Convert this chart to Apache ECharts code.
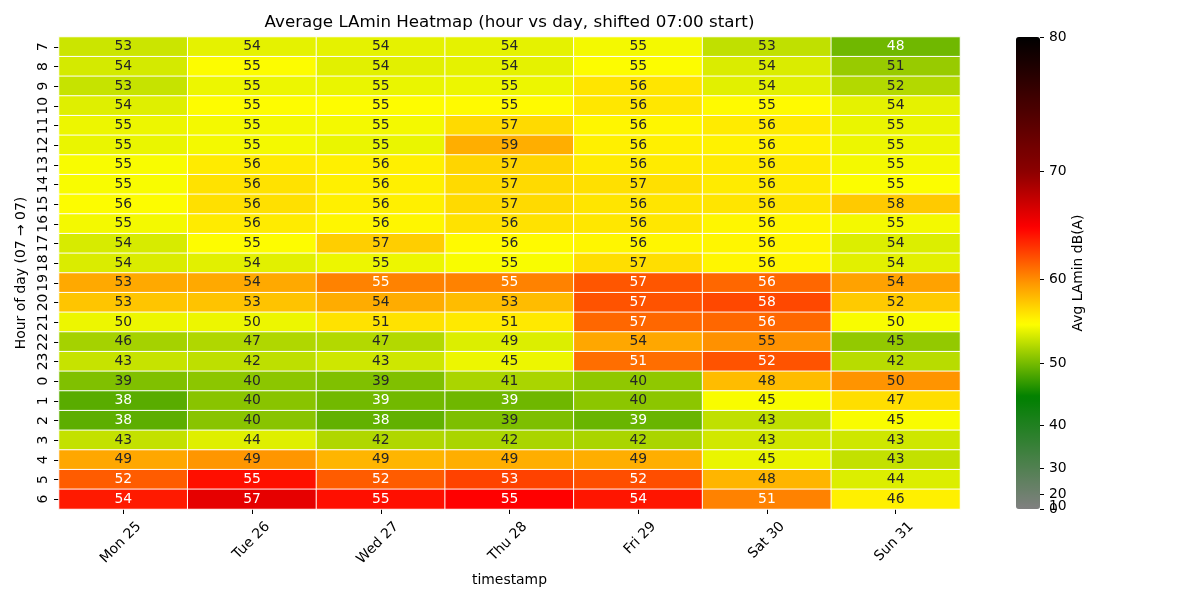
<!DOCTYPE html>
<html>
<head>
<meta charset="utf-8">
<script src="https://cdn.jsdelivr.net/npm/echarts@6/dist/echarts.min.js"></script>
<style>html,body{margin:0;padding:0;background:#fff}#chart{width:1200px;height:600px}</style>
</head>
<body>
<div id="chart"></div>
<script>
// ---- categories ----
const days = ['Mon 25','Tue 26','Wed 27','Thu 28','Fri 29','Sat 30','Sun 31'];
const hours = ['7','8','9','10','11','12','13','14','15','16','17','18','19','20','21','22','23','0','1','2','3','4','5','6'];

// ---- annotated values (per day, rows in hour order above) ----
const laminMon = [53,54,53,54,55,55,55,55,56,55,54,54,53,53,50,46,43,39,38,38,43,49,52,54];
const laminTue = [54,55,55,55,55,55,56,56,56,56,55,54,54,53,50,47,42,40,40,40,44,49,55,57];
const laminWed = [54,54,55,55,55,55,56,56,56,56,57,55,55,54,51,47,43,39,39,38,42,49,52,55];
const laminThu = [54,54,55,55,57,59,57,57,57,56,56,55,55,53,51,49,45,41,39,39,42,49,53,55];
const laminFri = [55,55,56,56,56,56,56,57,56,56,56,57,57,57,57,54,51,40,40,39,42,49,52,54];
const laminSat = [53,54,54,55,56,56,56,56,56,56,56,56,56,58,56,55,52,48,45,43,43,45,48,51];
const laminSun = [48,51,52,54,55,55,55,55,58,55,54,54,54,52,50,45,42,50,47,45,43,43,44,46];

// ---- colour level of each cell, dB(A) ----
const levelMon = [53.2,53.5,53.0,53.9,54.4,54.3,54.8,54.8,55.0,54.6,53.6,53.7,58.8,57.6,54.4,51.8,53.0,50.4,48.85,49.0,52.9,58.9,61.8,64.1];
const levelTue = [54.1,55.0,54.4,55.1,54.6,54.6,55.9,56.3,56.4,55.9,55.1,54.0,58.8,57.7,54.4,52.2,52.7,50.85,50.75,50.75,53.9,59.6,64.5,66.1];
const levelWed = [54.1,54.0,54.3,55.1,54.6,54.3,55.7,55.7,55.7,55.4,57.2,54.4,60.4,58.7,56.3,52.3,53.3,50.4,49.85,49.2,52.2,58.3,61.8,64.5];
const levelThu = [54.1,54.1,54.4,55.2,56.7,58.6,56.9,56.7,56.7,56.3,55.2,54.8,60.4,58.0,56.0,53.8,54.4,52.0,49.7,50.3,52.0,58.6,62.7,65.0];
const levelFri = [54.6,55.0,56.2,56.1,55.4,55.7,55.9,56.4,56.2,56.1,55.4,56.5,62.0,62.1,61.4,58.9,61.1,51.0,50.85,49.5,52.0,58.6,62.3,64.3];
const levelSat = [52.8,53.7,54.0,55.2,55.9,55.6,55.9,55.9,56.2,55.4,55.4,55.4,61.4,62.5,61.4,59.8,62.1,58.0,54.8,52.8,53.4,54.3,58.3,60.4];
const levelSun = [49.75,51.3,52.3,54.1,54.3,54.4,54.6,54.9,57.4,54.6,53.8,54.0,59.1,57.4,54.8,51.1,52.5,59.7,56.5,54.8,53.3,52.9,53.8,55.7];

// ---- colour bar ticks ----
const cbTicks = [0,10,20,30,40,50,60,70,80];

const laminByDay = [laminMon,laminTue,laminWed,laminThu,laminFri,laminSat,laminSun];
const levelByDay = [levelMon,levelTue,levelWed,levelThu,levelFri,levelSat,levelSun];

// power norm (gamma 2.5, 0..80)
const VMIN = 0, VMAX = 80, GAMMA = 2.5;
const norm = v => Math.pow((v - VMIN) / (VMAX - VMIN), GAMMA);
const invNorm = t => VMIN + (VMAX - VMIN) * Math.pow(Math.max(t, 0), 1 / GAMMA);

// colormap nodes (dB -> colour)
const cmapNodes = [[0,[128,128,128]],[45,[0,128,0]],[55,[255,255,0]],[60,[255,140,0]],[65,[255,0,0]],[70,[139,0,0]],[80,[0,0,0]]];
function cmap(t) {
  for (let i = 0; i < cmapNodes.length - 1; i++) {
    const a = norm(cmapNodes[i][0]), b = norm(cmapNodes[i+1][0]);
    if (t <= b || i === cmapNodes.length - 2) {
      const f = Math.min(1, Math.max(0, (t - a) / (b - a)));
      const c0 = cmapNodes[i][1], c1 = cmapNodes[i+1][1];
      return [0,1,2].map(k => Math.round(c0[k] + (c1[k] - c0[k]) * f));
    }
  }
}
const hex = c => '#' + c.map(x => x.toString(16).padStart(2,'0')).join('');
const rampColors = [];
for (let i = 0; i <= 200; i++) rampColors.push(hex(cmap(i / 200)));

function textColorFor(rgb) {
  const lin = rgb.map(x => { x /= 255; return x <= 0.03928 ? x / 12.92 : Math.pow((x + 0.055) / 1.055, 2.4); });
  const lum = 0.2126 * lin[0] + 0.7152 * lin[1] + 0.0722 * lin[2];
  return lum > 0.408 ? '#262626' : '#ffffff';
}

const cells = [];
days.forEach((d, di) => {
  hours.forEach((h, hi) => {
    const t = norm(levelByDay[di][hi]);
    cells.push({ value: [di, hi, t, laminByDay[di][hi]], label: { color: textColorFor(cmap(t)) } });
  });
});

// tick positions on the colour bar; the crowded low ticks go on two axes so none is dropped
const cbPosA = cbTicks.filter((v, i) => i !== 1).map(norm);
const cbPosB = cbTicks.filter((v, i) => i === 1).map(norm);
const FONT = 'DejaVu Sans';
const cbFmt = v => String(Math.round(invNorm(v)));

function cbAxis(pos, withName) {
  const ax = {
    type: 'value', gridIndex: 1, min: 0, max: 1, position: 'right',
    axisLine: { show: false }, splitLine: { show: false },
    axisTick: { show: true, customValues: pos, length: 4, lineStyle: { color: '#000', width: 1 } },
    axisLabel: { customValues: pos, showMinLabel: true, showMaxLabel: true, hideOverlap: false,
      fontSize: 13.9, color: '#000', fontFamily: FONT, margin: 9, formatter: cbFmt }
  };
  if (withName) {
    ax.name = 'Avg LAmin dB(A)';
    ax.nameLocation = 'middle';
    ax.nameGap = 31;
    ax.nameTextStyle = { fontSize: 13.9, color: '#000', fontFamily: FONT };
  }
  return ax;
}

const chart = echarts.init(document.getElementById('chart'));
chart.setOption({
  animation: false,
  textStyle: { fontFamily: FONT },
  title: {
    text: 'Average LAmin Heatmap (hour vs day, shifted 07:00 start)',
    left: 509.5, top: 14, padding: 0, textAlign: 'center',
    textStyle: { fontFamily: FONT, fontSize: 16.7, fontWeight: 'normal', color: '#000' }
  },
  grid: [
    { left: 59, top: 37, width: 901, height: 472 },
    { left: 1016, top: 37, width: 24, height: 472 }
  ],
  xAxis: [
    {
      type: 'category', data: days, gridIndex: 0,
      axisLine: { show: false },
      axisTick: { show: true, alignWithLabel: true, length: 5, lineStyle: { color: '#000', width: 1 } },
      axisLabel: { interval: 0, rotate: 45, fontSize: 13.9, color: '#000', fontFamily: FONT, margin: 0, verticalAlign: 'top', padding: [15, 0, 0, 0] },
      name: 'timestamp', nameLocation: 'middle', nameGap: 60,
      nameTextStyle: { fontSize: 13.9, color: '#000', fontFamily: FONT }
    },
    { type: 'value', gridIndex: 1, show: false, min: 0, max: 1 }
  ],
  yAxis: [
    {
      type: 'category', data: hours, gridIndex: 0, inverse: true,
      axisLine: { show: false },
      axisTick: { show: true, alignWithLabel: true, length: 5, lineStyle: { color: '#000', width: 1 } },
      axisLabel: { interval: 0, rotate: 90, fontSize: 13.9, color: '#000', fontFamily: FONT, margin: 9 },
      name: 'Hour of day (07 → 07)', nameLocation: 'middle', nameGap: 30,
      nameTextStyle: { fontSize: 13.9, color: '#000', fontFamily: FONT }
    },
    cbAxis(cbPosB, false),
    cbAxis(cbPosA, true)
  ],
  visualMap: {
    type: 'continuous', min: 0, max: 1, dimension: 2, seriesIndex: 0,
    calculable: false, hoverLink: false, orient: 'vertical',
    left: 1016, top: 37, itemWidth: 24, itemHeight: 472, padding: 0,
    inRange: { color: rampColors }
  },
  series: [{
    type: 'heatmap', xAxisIndex: 0, yAxisIndex: 0,
    data: cells,
    itemStyle: { borderColor: '#ffffff', borderWidth: 1 },
    label: { show: true, fontSize: 13.9, fontFamily: FONT, formatter: p => String(p.value[3]) },
    emphasis: { disabled: true }
  }]
});
</script>
</body>
</html>
